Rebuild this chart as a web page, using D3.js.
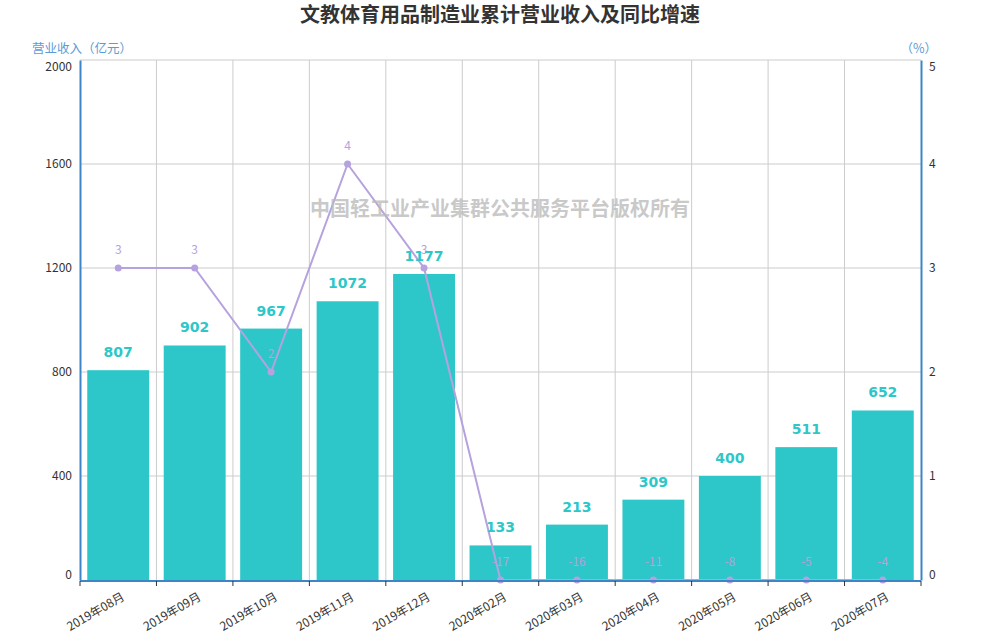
<!DOCTYPE html>
<meta charset="utf-8">
<style>
body { margin: 0; background: #fff; }
text { font-family: "Microsoft YaHei", "Noto Sans CJK SC", sans-serif; }
</style>
<svg width="1000" height="640"></svg>
<script src="https://d3js.org/d3.v7.min.js"></script>
<script>

var months = ["2019年08月","2019年09月","2019年10月","2019年11月","2019年12月","2020年02月",
              "2020年03月","2020年04月","2020年05月","2020年06月","2020年07月"];
var revenue = [807, 902, 967, 1072, 1177, 133, 213, 309, 400, 511, 652];
var growth = [3, 3, 2, 4, 3, -17, -16, -11, -8, -5, -4];
var leftTicks = [0, 400, 800, 1200, 1600, 2000];
var rightTicks = [0, 1, 2, 3, 4, 5];

var svg = d3.select("svg"),
    margin = {top: 60, right: 79, bottom: 60, left: 80},
    width = 1000 - margin.left - margin.right,
    height = 640 - margin.top - margin.bottom,
    g = svg.append("g").attr("transform", "translate(" + margin.left + "," + margin.top + ")");

var axisBlue = "#3d85c6",
    barColor = "#2ec7c9",
    lineColor = "#b6a2de";

var x = d3.scaleBand().domain(months).range([0, width]).paddingInner(0).paddingOuter(0);
var y = d3.scaleLinear().domain([0, 2000]).range([height, 0]);
var y2 = d3.scaleLinear().domain([0, 5]).range([height, 0]).clamp(true);

// title
svg.append("text")
    .attr("x", 500).attr("y", 22)
    .attr("text-anchor", "middle")
    .style("font-size", "20px").style("font-weight", "bold")
    .attr("fill", "#333")
    .text("文教体育用品制造业累计营业收入及同比增速");

// grid
g.append("g").selectAll("line.h").data(leftTicks.slice(1)).enter().append("line")
    .attr("x1", 0).attr("x2", width)
    .attr("y1", function(d) { return y(d); }).attr("y2", function(d) { return y(d); })
    .attr("stroke", "#ccc");
g.append("g").selectAll("line.v").data(months.slice(1)).enter().append("line")
    .attr("x1", function(d) { return x(d); }).attr("x2", function(d) { return x(d); })
    .attr("y1", 0).attr("y2", height)
    .attr("stroke", "#ccc");

// bars
var bw = x.bandwidth() * 0.81;
g.append("g").selectAll("rect").data(revenue).enter().append("rect")
    .attr("x", function(d, i) { return x(months[i]) + (x.bandwidth() - bw) / 2; })
    .attr("width", bw)
    .attr("y", function(d) { return y(d); })
    .attr("height", function(d) { return height - y(d); })
    .attr("fill", barColor);

// line
var line = d3.line()
    .x(function(d, i) { return x(months[i]) + x.bandwidth() / 2; })
    .y(function(d) { return y2(d); });

g.append("path").datum(growth)
    .attr("d", line)
    .attr("fill", "none")
    .attr("stroke", lineColor)
    .attr("stroke-width", 2);

g.append("g").selectAll("circle").data(growth).enter().append("circle")
    .attr("cx", function(d, i) { return x(months[i]) + x.bandwidth() / 2; })
    .attr("cy", function(d) { return y2(d); })
    .attr("r", 3.5)
    .attr("fill", lineColor);

g.append("g").selectAll("text").data(growth).enter().append("text")
    .attr("x", function(d, i) { return x(months[i]) + x.bandwidth() / 2; })
    .attr("y", function(d) { return y2(d) - 14; })
    .attr("text-anchor", "middle")
    .attr("fill", lineColor)
    .style("font-size", "12px")
    .text(function(d) { return d; });

// bar labels
g.append("g").selectAll("text").data(revenue).enter().append("text")
    .attr("x", function(d, i) { return x(months[i]) + x.bandwidth() / 2; })
    .attr("y", function(d) { return y(d) - 13; })
    .attr("text-anchor", "middle")
    .attr("fill", barColor)
    .style("font-size", "14px").style("font-weight", "bold")
    .style("font-family", "Verdana, 'DejaVu Sans', sans-serif")
    .text(function(d) { return d; });

// watermark
svg.append("text")
    .attr("x", 500).attr("y", 216)
    .attr("text-anchor", "middle")
    .attr("fill", "#bbb").attr("fill-opacity", 0.8)
    .style("font-size", "20px").style("font-weight", "bold")
    .text("中国轻工业产业集群公共服务平台版权所有");

// left axis
var yAxis = g.append("g")
    .call(d3.axisLeft(y).tickValues(leftTicks).tickFormat(d3.format("d")).tickSize(0).tickPadding(8));
yAxis.select(".domain").attr("stroke", axisBlue).attr("stroke-width", 2);
yAxis.selectAll("text").style("font-size", "12px").attr("fill", "#333")
    .attr("dy", function(d) { return d === 2000 ? "0.9em" : d === 0 ? "-0.1em" : "0.32em"; });

// right axis
var y2Axis = g.append("g").attr("transform", "translate(" + width + ",0)")
    .call(d3.axisRight(y2).tickValues(rightTicks).tickFormat(d3.format("d")).tickSize(0).tickPadding(8));
y2Axis.select(".domain").attr("stroke", axisBlue).attr("stroke-width", 2);
y2Axis.selectAll("text").style("font-size", "12px").attr("fill", "#333")
    .attr("dy", function(d) { return d === 5 ? "0.9em" : d === 0 ? "-0.1em" : "0.32em"; });

// bottom axis
var xAxis = g.append("g").attr("transform", "translate(0," + height + ")");
xAxis.append("line").attr("x1", 0).attr("x2", width).attr("y1", 1).attr("y2", 1)
    .attr("stroke", axisBlue).attr("stroke-width", 2);
xAxis.selectAll("line.tick").data(months.concat(["end"])).enter().append("line")
    .attr("x1", function(d, i) { return i * x.step(); })
    .attr("x2", function(d, i) { return i * x.step(); })
    .attr("y1", 1).attr("y2", 6)
    .attr("stroke", "#333");
xAxis.selectAll("text").data(months).enter().append("text")
    .attr("transform", function(d) {
        return "translate(" + (x(d) + x.bandwidth() / 2 + 3) + ",12) rotate(-30)";
    })
    .attr("text-anchor", "end")
    .attr("dy", "0.7em")
    .attr("fill", "#333")
    .style("font-size", "12px")
    .text(function(d) { return d; });

// axis names
svg.append("text").attr("x", 32).attr("y", 53)
    .attr("fill", "#5b9bd5").style("font-size", "12.5px")
    .text("营业收入（亿元）");
svg.append("text").attr("x", 937).attr("y", 53)
    .attr("text-anchor", "end")
    .attr("fill", "#5b9bd5").style("font-size", "12.5px")
    .text("（%）");

</script>
